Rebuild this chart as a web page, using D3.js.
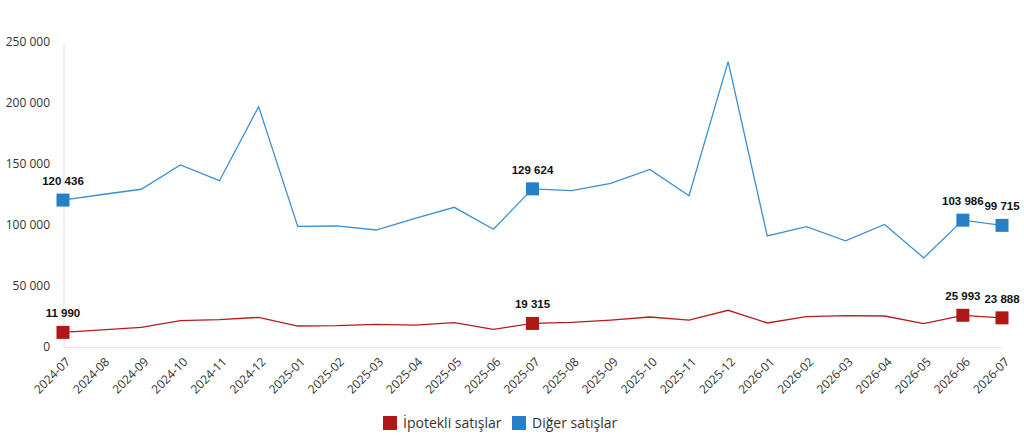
<!DOCTYPE html>
<html><head><meta charset="utf-8">
<script src="https://cdn.jsdelivr.net/npm/d3@7"></script>
<style>body{margin:0;background:#fff}svg{display:block}</style>
</head><body>
<svg id="c" width="1024" height="441"></svg>
<script>
const months = ["2024-07","2024-08","2024-09","2024-10","2024-11","2024-12","2025-01","2025-02","2025-03","2025-04","2025-05","2025-06","2025-07","2025-08","2025-09","2025-10","2025-11","2025-12","2026-01","2026-02","2026-03","2026-04","2026-05","2026-06","2026-07"];
const ipotekli = [11990,14000,16100,21600,22400,24300,17200,17500,18600,18000,19900,14500,19315,20200,22100,24600,22100,30100,19700,24900,25700,25400,19100,25993,23888];
const diger = [120436,125000,129300,149200,136300,197000,98900,99200,95900,105500,114500,96500,129624,128100,134200,145600,124000,233900,91000,98600,87100,100500,73000,103986,99715];
const yTicks = [0,50000,100000,150000,200000,250000];
const markedIdx = [0,12,23,24];
const seriesNames = ["İpotekli satışlar","Diğer satışlar"];
const lineColors = ["#b71c1c","#3b8fd4"];
const markerColors = ["#b01818","#2680c8"];

const svg = d3.select("#c");
const x = d3.scalePoint().domain(months).range([63,1002]);
const y = d3.scaleLinear().domain([0,250000]).range([347,42]);
const fmt = v => d3.format(",")(v).replace(/,/g," ");

svg.append("line").attr("x1",64).attr("x2",64).attr("y1",42).attr("y2",347).attr("stroke","#dfe4ee");
svg.append("line").attr("x1",64).attr("x2",1002).attr("y1",347.5).attr("y2",347.5).attr("stroke","#e6e6e6").attr("stroke-width",1.5);

const ya = svg.append("g").attr("transform","translate(50,0)")
  .call(d3.axisLeft(y).tickValues(yTicks).tickSize(0).tickPadding(0).tickFormat(fmt));
ya.select(".domain").remove();
ya.selectAll("text").attr("font-family","Open Sans, sans-serif").attr("font-size",12).attr("fill","#333");

const xa = svg.append("g").attr("transform","translate(0,356)")
  .call(d3.axisBottom(x).tickSize(0).tickPadding(0));
xa.select(".domain").remove();
xa.selectAll("text").attr("font-family","Open Sans, sans-serif").attr("font-size",12).attr("fill","#333")
  .attr("text-anchor","end").attr("dy","0.3em").attr("dx","0")
  .attr("transform","translate(5,4) rotate(-45)");

const data = [ipotekli, diger];
const line = d3.line().x((d,i)=>x(months[i])).y(d=>y(d));
data.forEach((s,k)=>{
  svg.append("path").attr("d",line(s)).attr("fill","none").attr("stroke",lineColors[k]).attr("stroke-width",1.3);
});
data.forEach((s,k)=>{
  markedIdx.forEach(i=>{
    svg.append("rect").attr("x",x(months[i])-6.5).attr("y",y(s[i])-6.5).attr("width",13).attr("height",13)
      .attr("fill",markerColors[k]);
    svg.append("text").attr("x",x(months[i])).attr("y",y(s[i])-15)
      .attr("text-anchor","middle").attr("font-family","Liberation Sans, Arial, sans-serif")
      .attr("font-weight","bold").attr("font-size",11.5).attr("fill","#111").text(fmt(s[i]));
  });
});

const leg = svg.append("g");
const legX = [383,512];
seriesNames.forEach((n,k)=>{
  leg.append("rect").attr("x",legX[k]).attr("y",416).attr("width",14).attr("height",14).attr("fill",markerColors[k]);
  leg.append("text").attr("x",legX[k]+20).attr("y",428).attr("font-family","Open Sans, sans-serif")
    .attr("font-size",14).attr("fill","#333").text(n);
});
</script>
</body></html>
